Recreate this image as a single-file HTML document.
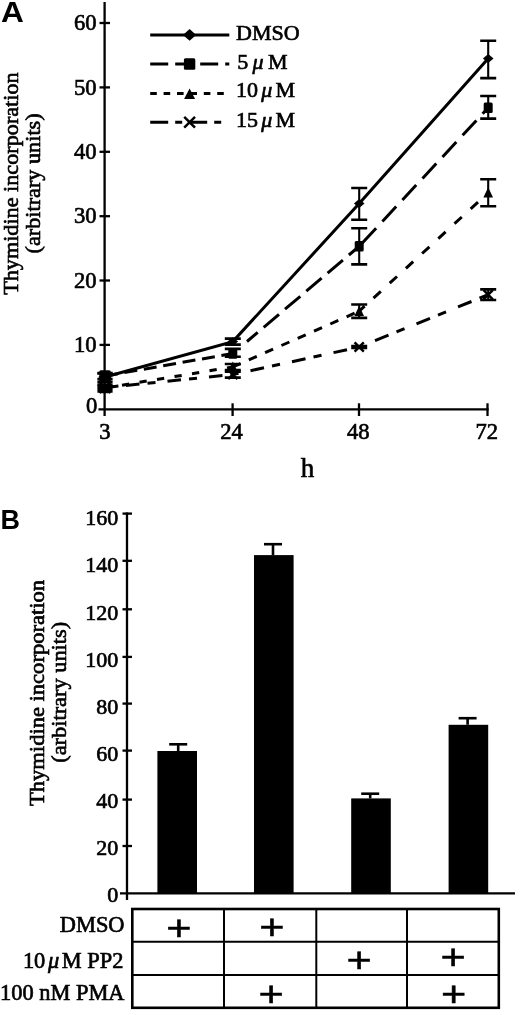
<!DOCTYPE html>
<html lang="en"><head><meta charset="utf-8"><title>Thymidine incorporation</title>
<style>
html,body{margin:0;padding:0;background:#fff;}
body{width:520px;height:1015px;overflow:hidden;}
svg{display:block;filter:blur(0.45px);}
.t{font-family:"Liberation Serif","DejaVu Serif",serif;fill:#000;stroke:#000;stroke-width:0.65px;}
.tk{font-size:22.6px;}
.yl{font-size:22px;}
.lg{font-size:22px;}
.mu{font-style:italic;}
.pl{font-family:"Liberation Sans",sans-serif;font-weight:bold;font-size:29.3px;fill:#000;}
.plus{font-family:"Liberation Sans",sans-serif;font-size:38px;fill:#000;stroke:#000;stroke-width:0.5px;}
.ax{stroke:#000;stroke-width:2.3;}
.ln{stroke:#000;stroke-width:3;fill:none;}
.es{stroke:#000;stroke-width:2.1;fill:none;}
.ec{stroke:#000;stroke-width:2.6;fill:none;}
.mk{fill:#000;}
.mx{stroke:#000;stroke-width:2.5;fill:none;}
.bs{stroke:#000;stroke-width:2.6;fill:none;}
.bc{stroke:#000;stroke-width:2.6;fill:none;}
.tl{stroke:#000;stroke-width:2;}
</style></head><body>
<svg width="520" height="1015" viewBox="0 0 520 1015">
<rect width="520" height="1015" fill="#fff"/>
<g id="panelA">
<line x1="104.6" y1="2" x2="104.6" y2="416" class="ax"/>
<line x1="98.5" y1="409.3" x2="488.6" y2="409.3" class="ax"/>
<line x1="99.5" y1="344.9" x2="110" y2="344.9" class="ax"/>
<line x1="99.5" y1="280.5" x2="110" y2="280.5" class="ax"/>
<line x1="99.5" y1="216.2" x2="110" y2="216.2" class="ax"/>
<line x1="99.5" y1="151.8" x2="110" y2="151.8" class="ax"/>
<line x1="99.5" y1="87.4" x2="110" y2="87.4" class="ax"/>
<line x1="99.5" y1="23.0" x2="110" y2="23.0" class="ax"/>
<line x1="232.6" y1="403.3" x2="232.6" y2="416" class="ax"/>
<line x1="359" y1="403.3" x2="359" y2="416" class="ax"/>
<line x1="487.5" y1="403.3" x2="487.5" y2="416" class="ax"/>
<text x="97.3" y="412.5" class="t tk" text-anchor="end">0</text>
<text x="96.5" y="352.1" class="t tk" text-anchor="end">10</text>
<text x="96.5" y="287.7" class="t tk" text-anchor="end">20</text>
<text x="96.5" y="223.4" class="t tk" text-anchor="end">30</text>
<text x="96.5" y="159.0" class="t tk" text-anchor="end">40</text>
<text x="96.5" y="94.6" class="t tk" text-anchor="end">50</text>
<text x="96.5" y="30.2" class="t tk" text-anchor="end">60</text>
<text x="105" y="439.2" class="t tk" text-anchor="middle">3</text>
<text x="231.6" y="439.2" class="t tk" text-anchor="middle">24</text>
<text x="358.2" y="439.2" class="t tk" text-anchor="middle">48</text>
<text x="486.8" y="439.2" class="t tk" text-anchor="middle">72</text>
<text x="307.5" y="477" class="t" font-size="27" text-anchor="middle">h</text>
<text transform="translate(17.5,183.6) rotate(-90)" class="t yl" text-anchor="middle" textLength="222.5" lengthAdjust="spacingAndGlyphs">Thymidine incorporation</text>
<text transform="translate(40,183.4) rotate(-90)" class="t yl" text-anchor="middle" textLength="140" lengthAdjust="spacingAndGlyphs">(arbitrary units)</text>
<text transform="translate(1,22) scale(1.08,1)" class="pl">A</text>
<path d="M105.0,377.0 L232.8,341.6 L359.2,203.5 L488.2,58.5" class="ln"/>
<path d="M105,373.5 V381.7" class="es"/>
<path d="M97.4,373.5 h15.2 M97.4,381.7 h15.2" class="ec"/>
<path d="M98.4,377 L105,371.2 L111.6,377 L105,382.8Z" class="mk"/>
<path d="M232.8,338.6 V344.6" class="es"/>
<path d="M224.8,338.6 h16 M224.8,344.6 h16" class="ec"/>
<path d="M227.5,341.6 L232.8,337.20000000000005 L238.10000000000002,341.6 L232.8,346.0Z" class="mk"/>
<path d="M359.2,188.0 V219.7" class="es"/>
<path d="M351.2,188.0 h16 M351.2,219.7 h16" class="ec"/>
<path d="M353.9,203.5 L359.2,199.1 L364.5,203.5 L359.2,207.9Z" class="mk"/>
<path d="M488.2,40.7 V78.1" class="es"/>
<path d="M480.2,40.7 h16 M480.2,78.1 h16" class="ec"/>
<path d="M482.9,58.5 L488.2,54.1 L493.5,58.5 L488.2,62.9Z" class="mk"/>
<path d="M105.0,376.0L117.8,373.7M124.4,372.6L137.2,370.3M143.8,369.2L156.6,366.9M163.2,365.8L176.0,363.5M182.6,362.3L195.4,360.1M202.0,358.9L214.8,356.7M221.4,355.5L232.8,353.5M247.0,341.5L257.7,332.4M263.7,327.3L279.0,314.3M285.0,309.2L300.3,296.3M306.3,291.2L321.6,278.2M327.6,273.1L342.9,260.1M348.9,255.0L359.2,246.3M362.3,243.0L376.1,228.2M382.4,221.4L396.2,206.6M402.4,199.9L416.2,185.1M422.5,178.4L436.3,163.6M442.5,156.9L456.3,142.0M462.6,135.3L476.4,120.5M482.6,113.8L488.2,107.8" class="ln"/>
<path d="M105,373.0 V379.0" class="es"/>
<path d="M97.4,373.0 h15.2 M97.4,379.0 h15.2" class="ec"/>
<rect x="99.3" y="370.3" width="11.4" height="11.4" rx="1.5" class="mk"/>
<path d="M232.8,348.9 V356.7" class="es"/>
<path d="M224.8,348.9 h16 M224.8,356.7 h16" class="ec"/>
<rect x="228.3" y="348.2" width="9.0" height="10.6" rx="1.5" class="mk"/>
<path d="M359.2,228.2 V264.4" class="es"/>
<path d="M351.2,228.2 h16 M351.2,264.4 h16" class="ec"/>
<rect x="354.7" y="241.0" width="9.0" height="10.6" rx="1.5" class="mk"/>
<path d="M488.2,96.0 V118.6" class="es"/>
<path d="M480.2,96.0 h16 M480.2,118.6 h16" class="ec"/>
<rect x="483.7" y="102.5" width="9.0" height="10.6" rx="1.5" class="mk"/>
<path d="M105.0,388.0L111.7,386.9M122.0,385.2L129.2,384.0M139.5,382.3L146.7,381.1M157.0,379.5L164.2,378.3M174.5,376.6L181.7,375.4M192.0,373.7L199.2,372.5M209.5,370.8L216.7,369.6M227.0,368.0L232.8,367.0M232.8,367.0L240.5,363.6M248.8,359.9L256.8,356.4M265.1,352.7L273.1,349.2M281.4,345.5L289.4,342.0M297.7,338.3L305.7,334.8M314.0,331.2L322.0,327.6M330.3,324.0L338.3,320.4M346.6,316.8L354.6,313.2M359.2,311.2L364.6,306.2M373.5,298.1L380.8,291.4M389.7,283.2L397.0,276.5M405.9,268.3L413.2,261.6M422.1,253.5L429.4,246.8M438.3,238.6L445.6,231.9M454.5,223.7L461.8,217.0M470.7,208.9L478.0,202.2M486.9,194.0L488.2,192.8" class="ln"/>
<path d="M105,384.6 V391.4" class="es"/>
<path d="M97.4,384.6 h15.2 M97.4,391.4 h15.2" class="ec"/>
<path d="M99.5,393.3 L105,383 L110.5,393.3Z" class="mk"/>
<path d="M232.8,364.0 V370.0" class="es"/>
<path d="M224.8,364.0 h16 M224.8,370.0 h16" class="ec"/>
<path d="M228.0,371.8 L232.8,361.5 L237.60000000000002,371.8Z" class="mk"/>
<path d="M359.2,304.5 V317.9" class="es"/>
<path d="M351.2,304.5 h16 M351.2,317.9 h16" class="ec"/>
<path d="M354.4,316.0 L359.2,305.7 L364.0,316.0Z" class="mk"/>
<path d="M488.2,179.3 V206.3" class="es"/>
<path d="M480.2,179.3 h16 M480.2,206.3 h16" class="ec"/>
<path d="M483.4,197.60000000000002 L488.2,187.3 L493.0,197.60000000000002Z" class="mk"/>
<path d="M106.0,387.4L114.0,386.6M126.0,385.4L139.5,384.0M147.5,383.2L155.5,382.4M167.5,381.2L181.0,379.8M189.0,379.0L197.0,378.2M209.0,377.0L222.5,375.6M230.5,374.8L232.8,374.6M232.8,374.6L238.5,373.4M250.5,370.7L264.0,367.8M272.0,366.0L280.0,364.3M292.0,361.7L305.5,358.7M313.5,357.0L321.5,355.2M333.5,352.6L347.0,349.7M355.0,347.9L359.2,347.0M359.2,347.0L363.0,345.5M375.0,340.6L388.5,335.1M396.5,331.9L404.5,328.6M416.5,323.8L430.0,318.3M438.0,315.1L446.0,311.8M458.0,306.9L471.5,301.5M479.5,298.2L487.5,295.0M112.8,386.7L118.4,386.1" class="ln"/>
<path d="M105,386.3 V388.7" class="es"/>
<path d="M97.4,386.3 h15.2 M97.4,388.7 h15.2" class="ec"/>
<path d="M99.6,382.1 L110.4,392.9 M99.6,392.9 L110.4,382.1" class="mx"/>
<path d="M232.8,371.6 V377.6" class="es"/>
<path d="M224.8,371.6 h16 M224.8,377.6 h16" class="ec"/>
<path d="M228.20000000000002,370.0 L237.4,379.20000000000005 M228.20000000000002,379.20000000000005 L237.4,370.0" class="mx"/>
<path d="M359.2,346.0 V348.0" class="es"/>
<path d="M351.2,346.0 h16 M351.2,348.0 h16" class="ec"/>
<path d="M354.59999999999997,342.4 L363.8,351.6 M354.59999999999997,351.6 L363.8,342.4" class="mx"/>
<path d="M488.2,289.4 V300.0" class="es"/>
<path d="M480.2,289.4 h16 M480.2,300.0 h16" class="ec"/>
<path d="M483.59999999999997,290.09999999999997 L492.8,299.3 M483.59999999999997,299.3 L492.8,290.09999999999997" class="mx"/>
<path d="M150.2,34.9 H229.3" class="ln"/>
<path d="M183.0,34.9 L189.6,29.099999999999998 L196.2,34.9 L189.6,40.699999999999996Z" class="mk"/>
<text x="236" y="40.1" class="t lg">DMSO</text>
<path d="M150.2,64.0L168.2,64.0M175.2,64.0L193.2,64.0M200.2,64.0L218.2,64.0M225.2,64.0L229.3,64.0" class="ln"/>
<rect x="183.9" y="58.3" width="11.4" height="11.4" rx="1.5" class="mk"/>
<text x="236" y="69.2" class="t lg"><tspan dx="1.2">5</tspan><tspan class="mu" dx="4.3">μ</tspan><tspan dx="4.4">M</tspan></text>
<path d="M150.2,93.6L156.8,93.6M163.6,93.6L170.2,93.6M177.0,93.6L183.6,93.6M190.4,93.6L197.0,93.6M203.8,93.6L210.4,93.6M217.2,93.6L223.8,93.6" class="ln"/>
<path d="M184.1,98.89999999999999 L189.6,88.6 L195.1,98.89999999999999Z" class="mk"/>
<text x="236" y="96.9" class="t lg">10<tspan class="mu" dx="3.2">μ</tspan><tspan dx="3.3">M</tspan></text>
<path d="M150.2,122.3L168.2,122.3M175.2,122.3L182.2,122.3M189.2,122.3L207.2,122.3M214.2,122.3L221.2,122.3" class="ln"/>
<path d="M184.2,116.89999999999999 L195.0,127.7 M184.2,127.7 L195.0,116.89999999999999" class="mx"/>
<text x="236" y="127" class="t lg">15<tspan class="mu" dx="3.2">μ</tspan><tspan dx="3.3">M</tspan></text>
</g>
<g id="panelB">
<line x1="127" y1="512.5" x2="127" y2="900" class="ax"/>
<line x1="120" y1="893.4" x2="515" y2="893.4" class="ax"/>
<line x1="122.5" y1="846.0" x2="132" y2="846.0" class="ax"/>
<line x1="122.5" y1="799.6" x2="132" y2="799.6" class="ax"/>
<line x1="122.5" y1="750.6" x2="132" y2="750.6" class="ax"/>
<line x1="122.5" y1="703.6" x2="132" y2="703.6" class="ax"/>
<line x1="122.5" y1="656.9" x2="132" y2="656.9" class="ax"/>
<line x1="122.5" y1="609.3" x2="132" y2="609.3" class="ax"/>
<line x1="122.5" y1="560.8" x2="132" y2="560.8" class="ax"/>
<line x1="122.5" y1="513.6" x2="132" y2="513.6" class="ax"/>
<text x="118.2" y="902.0" class="t tk" style="font-size:22px" text-anchor="end">0</text>
<text x="118.2" y="854.9" class="t tk" style="font-size:22px" text-anchor="end">20</text>
<text x="118.2" y="807.8" class="t tk" style="font-size:22px" text-anchor="end">40</text>
<text x="118.2" y="760.8" class="t tk" style="font-size:22px" text-anchor="end">60</text>
<text x="118.2" y="713.7" class="t tk" style="font-size:22px" text-anchor="end">80</text>
<text x="118.2" y="666.6" class="t tk" style="font-size:22px" text-anchor="end">100</text>
<text x="118.2" y="619.5" class="t tk" style="font-size:22px" text-anchor="end">120</text>
<text x="118.2" y="572.4" class="t tk" style="font-size:22px" text-anchor="end">140</text>
<text x="118.2" y="525.4" class="t tk" style="font-size:22px" text-anchor="end">160</text>
<rect x="157.4" y="751.0" width="39.6" height="142.4" fill="#000"/>
<path d="M178.2,751.0 V744.3" class="bs"/>
<path d="M169.2,744.3 h18" class="bc"/>
<rect x="254.0" y="555.1" width="39.6" height="338.3" fill="#000"/>
<path d="M273.0,555.1 V544.2" class="bs"/>
<path d="M264.0,544.2 h18" class="bc"/>
<rect x="351.2" y="798.4" width="39.6" height="95.0" fill="#000"/>
<path d="M370.2,798.4 V793.7" class="bs"/>
<path d="M361.2,793.7 h18" class="bc"/>
<rect x="448.6" y="724.8" width="39.6" height="168.6" fill="#000"/>
<path d="M467.59999999999997,724.8 V718.2" class="bs"/>
<path d="M458.59999999999997,718.2 h18" class="bc"/>
<text transform="translate(43.7,693) rotate(-90)" class="t yl" text-anchor="middle" textLength="226" lengthAdjust="spacingAndGlyphs">Thymidine incorporation</text>
<text transform="translate(66.4,692.3) rotate(-90)" class="t yl" text-anchor="middle" textLength="141" lengthAdjust="spacingAndGlyphs">(arbitrary units)</text>
<text transform="translate(0.5,529) scale(0.98,1)" class="pl" style="font-size:27.5px">B</text>
<rect x="132.3" y="909" width="366.5" height="98.79999999999995" fill="none" stroke="#000" stroke-width="2.6"/>
<line x1="224" y1="909" x2="224" y2="1007.8" class="tl"/>
<line x1="316.3" y1="909" x2="316.3" y2="1007.8" class="tl"/>
<line x1="407" y1="909" x2="407" y2="1007.8" class="tl"/>
<line x1="132.3" y1="941.8" x2="498.8" y2="941.8" class="tl"/>
<line x1="132.3" y1="975" x2="498.8" y2="975" class="tl"/>
<text x="124.5" y="931.7" class="t lg" style="font-size:22.4px" text-anchor="end">DMSO</text>
<text x="123.4" y="968.3" class="t lg" style="font-size:22.4px" text-anchor="end">10<tspan class="mu" dx="2.6">μ</tspan><tspan dx="2.6">M</tspan> PP2</text>
<text x="124.5" y="1000" class="t lg" style="font-size:22.4px" text-anchor="end">100 nM PMA</text>
<text transform="translate(178.8,928.2) scale(1.14,0.9)" y="12.64" class="plus" text-anchor="middle">+</text>
<text transform="translate(271.9,927.7) scale(1.14,0.9)" y="12.64" class="plus" text-anchor="middle">+</text>
<text transform="translate(359.2,960.4) scale(1.14,0.9)" y="12.64" class="plus" text-anchor="middle">+</text>
<text transform="translate(453.1,957.8) scale(1.14,0.9)" y="12.64" class="plus" text-anchor="middle">+</text>
<text transform="translate(271.2,994.2) scale(1.14,0.9)" y="12.64" class="plus" text-anchor="middle">+</text>
<text transform="translate(453.6,994.4) scale(1.14,0.9)" y="12.64" class="plus" text-anchor="middle">+</text>
</g>
</svg>
</body></html>
